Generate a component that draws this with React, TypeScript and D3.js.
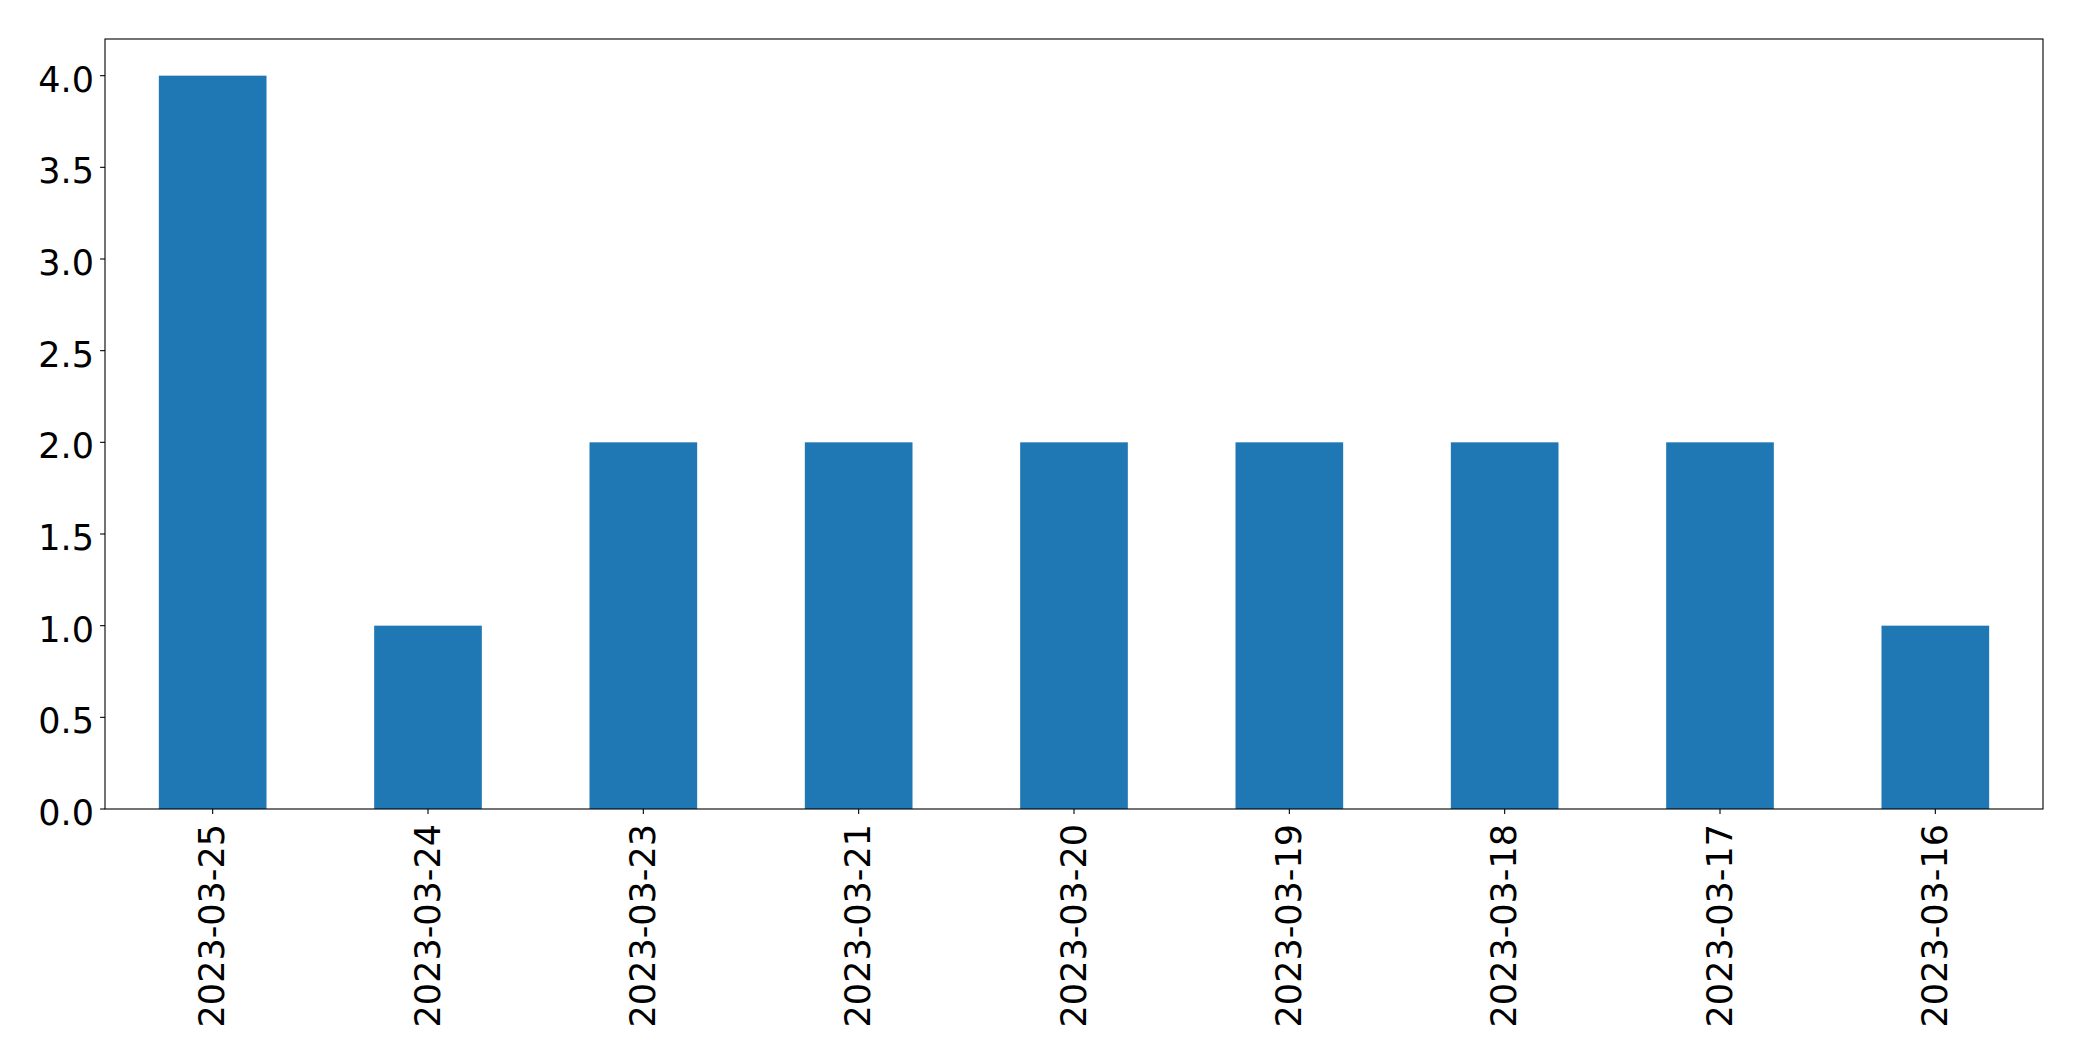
import React from "react";
import * as d3 from "d3";

const categories = ["2023-03-25", "2023-03-24", "2023-03-23", "2023-03-21", "2023-03-20", "2023-03-19", "2023-03-18", "2023-03-17", "2023-03-16"];
const values = [4, 1, 2, 2, 2, 2, 2, 2, 1];
const yTicks = [0, 0.5, 1, 1.5, 2, 2.5, 3, 3.5, 4];

const W = 2082;
const H = 1061;
const M = { left: 105, right: 2043, top: 39, bottom: 809 };
const FS = 35;

export default function App() {
  const x = d3.scaleLinear().domain([-0.5, categories.length - 0.5]).range([M.left, M.right]);
  const y = d3.scaleLinear().domain([0, 4.2]).range([M.bottom, M.top]);
  const bw = x(0.25) - x(-0.25);
  return (
    <svg width={W} height={H} style={{ position: "absolute", left: 0, top: 0, fontFamily: "DejaVu Sans" }}>
      <rect x={0} y={0} width={W} height={H} fill="#fff" />
      {values.map((v, i) => (
        <rect key={i} x={x(i) - bw / 2} y={y(v)} width={bw} height={y(0) - y(v)} fill="#1f77b4" />
      ))}
      <rect x={M.left} y={M.top} width={M.right - M.left} height={M.bottom - M.top} fill="none" stroke="#000" strokeWidth={1.1} />
      {yTicks.map((t) => (
        <g key={t}>
          <line x1={M.left - 4.9} x2={M.left} y1={y(t)} y2={y(t)} stroke="#000" strokeWidth={1.1} />
          <text x={M.left - 11} y={y(t) + 16} textAnchor="end" fontSize={FS} fill="#000">
            {t.toFixed(1)}
          </text>
        </g>
      ))}
      {categories.map((c, i) => (
        <g key={c}>
          <line x1={x(i)} x2={x(i)} y1={M.bottom} y2={M.bottom + 4.9} stroke="#000" strokeWidth={1.1} />
          <text
            transform={`translate(${x(i)},${M.bottom + 15}) rotate(-90)`}
            textAnchor="end"
            dy={11.5}
            fontSize={FS}
            fill="#000"
          >
            {c}
          </text>
        </g>
      ))}
    </svg>
  );
}
